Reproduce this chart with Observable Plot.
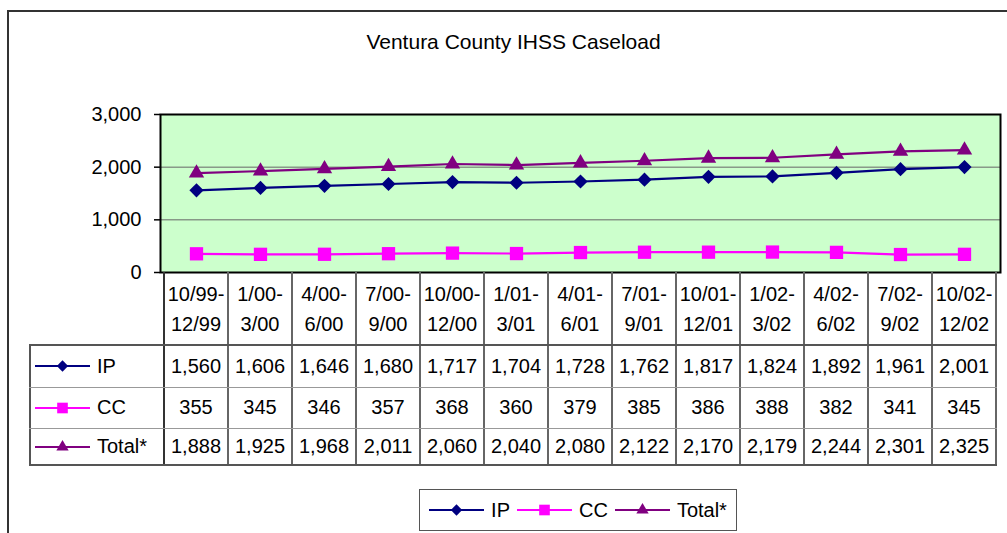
<!DOCTYPE html>
<html>
<head>
<meta charset="utf-8">
<script src="https://cdn.jsdelivr.net/npm/d3@7"></script>
<script src="https://cdn.jsdelivr.net/npm/@observablehq/plot@0.6"></script>
<style>
  html, body { margin: 0; padding: 0; background: #fff; overflow: hidden; }
  #wrap { position: relative; width: 1007px; height: 533px; font-family: "Liberation Sans", Arial, sans-serif; color: #000; overflow: hidden; }
  #wrap svg { position: absolute; left: 0; top: 0; display: block; }
  .abs { position: absolute; }
  .cell { position: absolute; display: flex; align-items: center; justify-content: center; font-size: 20px; text-align: center; white-space: nowrap; }
  .hline { position: absolute; }
  .vline { position: absolute; }
</style>
</head>
<body>
<div id="wrap"></div>
<script>
// ---- Data ----
const title = "Ventura County IHSS Caseload";
const periodStart = ["10/99-", "1/00-", "4/00-", "7/00-", "10/00-", "1/01-", "4/01-", "7/01-", "10/01-", "1/02-", "4/02-", "7/02-", "10/02-"];
const periodEnd   = ["12/99", "3/00", "6/00", "9/00", "12/00", "3/01", "6/01", "9/01", "12/01", "3/02", "6/02", "9/02", "12/02"];
const ipValues    = [1560, 1606, 1646, 1680, 1717, 1704, 1728, 1762, 1817, 1824, 1892, 1961, 2001];
const ccValues    = [355, 345, 346, 357, 368, 360, 379, 385, 386, 388, 382, 341, 345];
const totalValues = [1888, 1925, 1968, 2011, 2060, 2040, 2080, 2122, 2170, 2179, 2244, 2301, 2325];
const seriesNames = ["IP", "CC", "Total*"];
const yTicks = [0, 1000, 2000, 3000];

// ---- Build tables ----
const periods = periodStart.map((s, i) => s + "\n" + periodEnd[i]);
const seriesDefs = [
  {name: seriesNames[0], values: ipValues, color: "#000080", symbol: "diamond2", r: 6.4},
  {name: seriesNames[1], values: ccValues, color: "#FF00FF", symbol: "square", r: 7.5},
  {name: seriesNames[2], values: totalValues, color: "#800080", symbol: "triangle", r: 5.7}
];
const rows = seriesDefs.map(s => s.values.map((v, i) => ({period: periods[i], value: v, series: s.name})));

const fmt = d3.format(",");
const FONT = "'Liberation Sans', Arial, sans-serif";

const marks = [
  Plot.frame({fill: "#CCFFCC"}),
  Plot.ruleY(yTicks.filter(t => t > 0 && t < 3000), {stroke: "#666", strokeWidth: 1}),
];
seriesDefs.forEach((s, k) => {
  marks.push(Plot.line(rows[k], {x: "period", y: "value", stroke: s.color, strokeWidth: 2.2}));
});
seriesDefs.forEach((s, k) => {
  marks.push(Plot.dot(rows[k], {x: "period", y: "value", fill: s.color, stroke: "none", symbol: s.symbol, r: s.r}));
});
marks.push(Plot.frame({stroke: "#000", strokeWidth: 2}));
marks.push(Plot.axisY({ticks: yTicks, tickFormat: fmt, tickSize: 6, tickPadding: 13, label: null, stroke: "#000", strokeWidth: 1.5}));

const chart = Plot.plot({
  width: 1007,
  height: 533,
  marginTop: 114,
  marginBottom: 261,
  marginLeft: 160,
  marginRight: 7,
  x: {type: "band", domain: periods, padding: 0, axis: null},
  y: {domain: [0, 3000], axis: null},
  style: {fontFamily: FONT, fontSize: "20px", background: "transparent", color: "#000", overflow: "visible"},
  marks
});

const wrap = document.getElementById("wrap");
wrap.appendChild(chart);

function el(cls, styles, text) {
  const d = document.createElement("div");
  d.className = cls;
  Object.assign(d.style, styles);
  if (text != null) d.textContent = text;
  wrap.appendChild(d);
  return d;
}

// Outer chart-area border
el("abs", {left: "7px", top: "10px", width: "1100px", height: "600px", borderTop: "2px solid #333", borderLeft: "2px solid #333"});

// Title
el("abs", {left: "0px", top: "31px", width: "1027px", textAlign: "center", fontSize: "21px", lineHeight: "21px"}, title);

// ---- Data table aligned with the x band scale ----
const xs = chart.scale("x");
const ys = chart.scale("y");
const bw = xs.bandwidth;
const x0 = xs.apply(periods[0]);            // left edge of first band
const xEnd = x0 + bw * periods.length;
const top0 = ys.apply(0);                   // bottom of plot frame
const tableLeft = 30;
const headerH = 73;
const rowHs = [42, 41, 37];
const rowTops = [top0 + headerH];
rowHs.forEach((h, i) => rowTops.push(rowTops[i] + h));
const tableBottom = rowTops[rowTops.length - 1];

// header labels
periods.forEach((p, i) => {
  const c = el("cell", {left: (x0 + i * bw) + "px", top: top0 + "px", width: bw + "px", height: headerH + "px", lineHeight: "30px", flexDirection: "column"});
  const a = document.createElement("div"); a.textContent = periodStart[i];
  const b = document.createElement("div"); b.textContent = periodEnd[i];
  c.appendChild(a); c.appendChild(b);
});

// vertical lines
for (let k = 0; k <= periods.length; k++) {
  const x = x0 + k * bw;
  el("vline", {left: (x - 1) + "px", top: top0 + "px", width: "2px", height: (tableBottom - top0 + 1) + "px", background: k === 0 ? "#333" : "#666"});
}
// table left border
el("vline", {left: (tableLeft - 1) + "px", top: rowTops[0] + "px", width: "2px", height: (tableBottom - rowTops[0] + 1) + "px", background: "#555"});
// horizontal lines
rowTops.forEach((y, i) => {
  const inner = i > 0 && i < rowTops.length - 1;
  el("hline", {left: (tableLeft - 1) + "px", top: (y - (inner ? 0.5 : 1)) + "px", width: (xEnd - tableLeft + 2) + "px", height: inner ? "1px" : "2px", background: inner ? "#999" : "#555"});
});

function keySvg(s, w, markerScale) {
  const h = 20;
  const ns = "http://www.w3.org/2000/svg";
  const svg = document.createElementNS(ns, "svg");
  svg.setAttribute("width", w); svg.setAttribute("height", h);
  svg.style.position = "static";
  svg.style.display = "block";
  const line = document.createElementNS(ns, "line");
  line.setAttribute("x1", 0); line.setAttribute("x2", w);
  line.setAttribute("y1", h / 2); line.setAttribute("y2", h / 2);
  line.setAttribute("stroke", s.color); line.setAttribute("stroke-width", 2);
  svg.appendChild(line);
  const sym = {diamond2: d3.symbolDiamond2, square: d3.symbolSquare, triangle: d3.symbolTriangle}[s.symbol];
  const size = Math.PI * (s.r * markerScale) ** 2;
  const path = document.createElementNS(ns, "path");
  path.setAttribute("d", d3.symbol(sym, size)());
  path.setAttribute("transform", `translate(${w / 2},${h / 2})`);
  path.setAttribute("fill", s.color);
  svg.appendChild(path);
  return svg;
}

// rows
seriesDefs.forEach((s, r) => {
  const top = rowTops[r], h = rowHs[r];
  const lab = el("cell", {left: (tableLeft + 5) + "px", top: top + "px", height: h + "px", justifyContent: "flex-start", gap: "7px"});
  lab.appendChild(keySvg(s, 55, 0.8));
  const t = document.createElement("span"); t.textContent = s.name; lab.appendChild(t);
  s.values.forEach((v, i) => {
    el("cell", {left: (x0 + i * bw) + "px", top: top + "px", width: bw + "px", height: h + "px"}, fmt(v));
  });
});

// ---- Legend ----
const leg = el("abs", {left: "419px", top: "489px", width: "318px", height: "42px", border: "1px solid #555", boxSizing: "border-box", display: "flex", alignItems: "center", justifyContent: "center", gap: "7px", fontSize: "20px"});
seriesDefs.forEach((s) => {
  leg.appendChild(keySvg(s, 55, 0.8));
  const t = document.createElement("span"); t.textContent = s.name; leg.appendChild(t);
});
</script>
</body>
</html>
